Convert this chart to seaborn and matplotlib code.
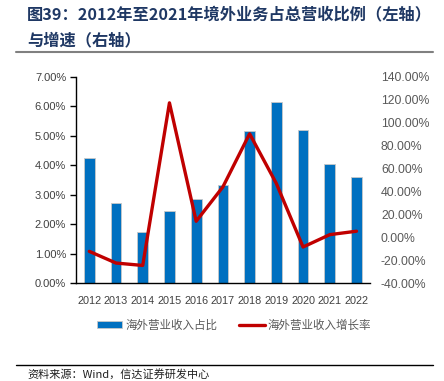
import matplotlib
matplotlib.use("Agg")
import matplotlib.pyplot as plt
import seaborn as sns
import pandas as pd
import numpy as np
from matplotlib.ticker import FuncFormatter

years = ["2012", "2013", "2014", "2015", "2016", "2017",
         "2018", "2019", "2020", "2021", "2022"]
share = [4.24, 2.71, 1.74, 2.44, 2.84, 3.33, 5.18, 6.16, 5.20, 4.04, 3.61]
growth = [-12.3, -22.5, -24.6, 117.4, 14.0, 44.0, 90.4, 47.0, -8.5, 2.3, 5.3]
bar_label = "海外营业收入占比"
line_label = "海外营业收入增长率"

df = pd.DataFrame({"year": years, "share": share, "growth": growth})

sns.set_style("white")
plt.rcParams["font.family"] = ["Liberation Sans", "Noto Sans CJK SC", "DejaVu Sans"]

fig = plt.figure(figsize=(4.44, 3.81), dpi=100)
ax = fig.add_axes([0.171, 0.257, 0.662, 0.541])

# bars on the left axis
sns.barplot(data=df, x="year", y="share", color="#0070C0", width=0.4,
            edgecolor="#c8c8c8", linewidth=0.6, saturation=1, ax=ax,
            label=bar_label)
ax.set_ylim(0, 7)
ax.set_yticks(np.arange(0, 7.01, 1))
ax.yaxis.set_major_formatter(FuncFormatter(lambda v, p: f"{v:.2f}%"))
ax.set_xlim(-0.5, 10.5)
ax.set_xlabel("")
ax.set_ylabel("")

# growth line on the right axis
ax2 = ax.twinx()
sns.lineplot(data=df, x="year", y="growth", color="#C00000", linewidth=2.4,
             ax=ax2, label=line_label, sort=False)
ax2.set_ylim(-40, 140)
ax2.set_yticks(np.arange(-40, 140.1, 20))
ax2.yaxis.set_major_formatter(FuncFormatter(lambda v, p: f"{v:.2f}%"))
ax2.set_ylabel("")
ax2.set_xlim(-0.5, 10.5)

for a in (ax, ax2):
    for s in ("top", "right"):
        a.spines[s].set_visible(False)
ax2.spines["left"].set_visible(False)
ax2.spines["bottom"].set_visible(False)
ax.spines["left"].set_color("black")
ax.spines["bottom"].set_color("black")
ax.spines["left"].set_linewidth(1.0)
ax.spines["bottom"].set_linewidth(1.0)

ax.tick_params(axis="y", left=True, length=4, width=1, color="black",
               labelsize=8, labelcolor="#404040", pad=3)
ax.tick_params(axis="x", bottom=False, labelsize=7.8, labelcolor="#404040", pad=6)
ax2.tick_params(axis="y", right=False, length=0, labelsize=8.8,
                labelcolor="#595959", pad=8)

h1, l1 = ax.get_legend_handles_labels()
h2, l2 = ax2.get_legend_handles_labels()
if ax2.get_legend():
    ax2.get_legend().remove()
if ax.get_legend():
    ax.get_legend().remove()
fig.legend(h1 + h2, l1 + l2, loc="center", bbox_to_anchor=(0.527, 0.147),
           ncol=2, frameon=False, labelcolor="#595959",
           handlelength=2.2, handleheight=0.55, columnspacing=1.9,
           handletextpad=0.25, prop={"family": ["Noto Sans CJK SC"], "size": 8.3})

fig.text(0.061, 0.961, "图39：2012年至2021年境外业务占总营收比例（左轴）",
         fontsize=11.7, fontweight="bold", color="#1F3864", va="center",
         family=["Noto Sans CJK SC"])
fig.text(0.061, 0.895, "与增速（右轴）", fontsize=11.7, fontweight="bold",
         color="#1F3864", va="center", family=["Noto Sans CJK SC"])
fig.add_artist(plt.Line2D([0.036, 0.975], [0.864, 0.864], color="#808080",
                          linewidth=1.5, transform=fig.transFigure))
fig.add_artist(plt.Line2D([0.036, 0.975], [0.042, 0.042], color="black",
                          linewidth=1.0, transform=fig.transFigure))
fig.text(0.061, 0.018, "资料来源：Wind，信达证券研发中心", fontsize=8,
         style="italic", color="#202020", va="center",
         family=["Noto Sans CJK SC"])

fig.savefig("out.png", dpi=100)
